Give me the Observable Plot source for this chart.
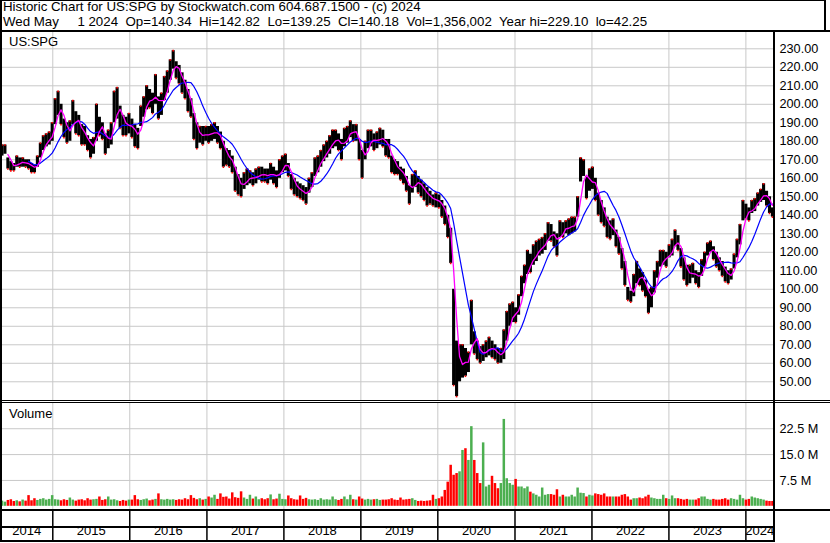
<!DOCTYPE html>
<html>
<head>
<meta charset="utf-8">
<script src="https://cdn.jsdelivr.net/npm/d3@7"></script>
<script src="https://cdn.jsdelivr.net/npm/@observablehq/plot@0.6"></script>
<style>
  html, body { margin: 0; padding: 0; background: #fff; }
  #chart { position: relative; width: 830px; height: 543px; overflow: hidden; background: #fff;
           font-family: Arial, "Liberation Sans", sans-serif; color: #000; }
  #chart svg { position: absolute; left: 0; }
  .ln { position: absolute; background: #000; }
  .txt { position: absolute; white-space: pre; color: #000; }
</style>
</head>
<body>
<div id="chart"></div>
<script>
// ---------------- data ----------------
const headerLine1 = "Historic Chart for US:SPG by Stockwatch.com 604.687.1500 - (c) 2024";
const headerLine2 = "Wed May     1 2024  Op=140.34  Hi=142.82  Lo=139.25  Cl=140.18  Vol=1,356,002  Year hi=229.10  lo=42.25";
const symbolLabel = "US:SPG";
const volumeLabel = "Volume";

const startDate = new Date(Date.UTC(2014, 3, 28));   // left edge of chart
const endDate = new Date(Date.UTC(2024, 4, 11));     // right edge of chart
const stepDays = 14;                                  // one bar per two weeks

const lows = [172,173,165,164,164,166,166,166,166,165,
163,163,166,171,175,177,178,180,189,194,
189,182,179,180,189,184,183,178,178,175,
171,173,180,183,181,173,176,178,190,192,
187,183,183,184,182,177,176,188,193,197,
198,195,200,192,194,202,206,213,219,214,
211,206,203,196,193,181,176,179,178,180,
179,180,181,179,176,166,167,166,163,153,
151,150,154,156,157,156,157,159,158,158,
157,159,157,155,160,163,164,161,154,151,
150,149,148,146,152,155,161,163,166,169,
171,173,176,177,175,170,177,179,182,180,
180,170,160,170,176,177,175,176,178,177,
172,171,163,162,162,159,157,153,146,152,
155,152,150,148,145,146,145,144,144,139,
135,128,114,48,42,50,52,53,55,70,
65,62,60,61,63,64,63,62,60,60,
62,72,80,82,82,86,96,103,108,109,
113,115,118,119,121,126,126,123,118,128,
128,130,129,130,131,139,158,161,149,153,
154,148,140,136,134,128,127,129,123,119,
111,102,94,93,96,103,102,99,96,87,
90,98,106,112,113,112,117,118,123,121,
112,105,102,103,106,103,101,107,112,118,
120,116,112,110,107,104,103,105,111,117,
124,137,138,137,141,142,145,147,148,145,
141,139];

const highs = [178,178,171,169,168,172,171,171,170,170,
168,167,172,179,183,184,185,190,203,207,
200,192,190,191,202,196,194,189,188,183,
181,182,200,193,190,184,186,190,207,209,
199,194,193,195,192,189,187,199,204,210,
208,206,216,204,206,215,218,224,229,223,
221,217,213,208,203,195,190,188,188,188,
188,189,190,188,185,180,176,175,172,166,
162,160,163,165,164,163,165,166,166,165,
165,168,166,164,170,172,173,168,162,160,
158,157,156,155,160,163,171,172,175,178,
180,183,186,186,184,181,187,188,191,189,
189,181,175,180,186,186,184,185,187,186,
181,181,172,170,169,166,165,161,156,162,
164,161,159,157,155,153,151,152,151,148,
145,140,133,100,72,70,70,68,66,94,
77,72,69,70,72,74,72,70,68,68,
78,88,92,93,90,97,107,113,121,119,
124,126,127,128,130,136,135,131,130,137,
136,137,138,139,139,150,171,170,161,165,
166,160,152,148,144,139,137,138,132,128,
122,115,101,99,108,115,111,109,105,100,
101,110,115,121,121,120,124,127,132,129,
122,117,113,113,114,110,109,116,120,125,
126,123,120,117,115,112,110,111,119,127,
135,148,146,144,148,149,152,154,157,153,
150,144];

// volume in millions
const volumes = [1.5,1.2,1.7,1.9,1.4,1.6,1.3,1.8,1.5,3.1,
1.6,2.2,1.7,2.0,2.2,1.8,2.0,3.1,1.9,1.8,
1.6,1.9,1.7,2.4,1.8,1.5,1.8,1.9,1.6,2.2,
1.8,1.9,2.0,2.7,1.7,1.9,2.7,1.8,1.9,1.6,
1.4,1.7,1.5,1.8,1.8,3.1,1.9,1.7,1.9,2.1,
1.6,1.8,2.0,3.6,1.9,1.8,2.0,1.8,1.9,1.7,
1.9,1.8,2.2,1.9,3.1,2.3,1.9,2.2,1.8,2.0,
2.7,2.4,3.2,2.0,3.6,2.6,2.7,2.1,3.9,2.5,
2.3,4.2,2.4,2.0,3.2,2.1,2.7,1.9,2.2,1.9,
2.2,3.3,1.9,2.1,3.5,2.0,1.9,3.0,2.2,1.9,
1.8,3.0,2.0,2.3,1.9,1.8,1.9,1.7,2.2,1.8,
1.9,1.8,2.7,1.9,1.7,2.0,2.7,1.9,3.2,1.9,
1.8,2.7,2.1,1.8,2.0,1.8,1.9,2.0,1.7,1.8,
1.8,1.9,2.2,1.8,1.7,2.4,1.8,1.9,2.0,2.2,
1.7,1.4,1.5,1.4,1.5,1.6,3.2,2.0,2.2,2.7,
4.6,7.0,11.9,9.0,9.5,10.0,16.2,16.7,13.3,23.1,
13.3,9.5,6.6,18.4,5.6,6.1,8.7,6.6,5.1,6.6,
25.2,8.0,6.6,6.1,7.8,5.6,5.6,5.1,5.6,4.1,
3.6,3.2,2.7,5.3,3.2,3.4,3.4,3.2,4.8,2.7,
3.2,2.7,2.7,3.2,2.7,5.3,3.8,3.7,2.7,3.2,
3.0,3.6,3.4,3.2,3.6,2.7,2.7,2.7,2.7,2.7,
3.2,3.4,2.7,1.8,2.2,2.2,2.4,2.2,2.7,3.2,
2.4,2.2,2.0,2.0,3.2,2.2,2.0,3.0,2.2,2.2,
2.0,1.8,2.0,1.8,1.8,1.8,2.2,2.7,2.7,2.0,
1.8,2.0,1.8,1.8,2.0,2.2,1.8,2.2,2.0,1.8,
3.2,2.2,1.8,2.0,2.7,2.4,2.2,2.0,1.8,1.5,
1.4,1.4];

const priceTicks = [50,60,70,80,90,100,110,120,130,140,150,160,170,180,190,200,210,220,230];
const volumeTicks = [7.5, 15, 22.5];
const yearLabels = ["2014","2015","2016","2017","2018","2019","2020","2021","2022","2023","2024"];

// ---------------- table built from the arrays ----------------
const data = lows.map((lo, i) => ({
  date: d3.utcDay.offset(startDate, stepDays * i + 7),
  lo, hi: highs[i], vol: volumes[i], mid: (lo + highs[i]) / 2
}));
data.forEach((d, i) => { d.up = i === 0 ? true : d.mid >= data[i - 1].mid; });

const yearStarts = d3.utcYears(startDate, endDate);
const yearCells = yearLabels.map(label => {
  const y = +label;
  const a = new Date(Math.max(+startDate, Date.UTC(y, 0, 1)));
  const b = new Date(Math.min(+endDate, Date.UTC(y + 1, 0, 1)));
  return {label, mid: new Date((+a + +b) / 2)};
});

const font = 'Arial, "Liberation Sans", sans-serif';
const baseStyle = {fontFamily: font, fontSize: "12.7px", background: "transparent", color: "#000", overflow: "visible"};
const xScale = {type: "utc", domain: [startDate, endDate], axis: null};
const GRID = "#c8c8c8";

// ---------------- price panel ----------------
const pricePlot = Plot.plot({
  width: 830, height: 369, marginLeft: 0, marginRight: 57, marginTop: 0, marginBottom: 0,
  x: xScale,
  y: {domain: [39.89, 239.35], axis: "right", ticks: priceTicks, tickFormat: d => d.toFixed(2),
      tickSize: 0, tickPadding: 6, label: null},
  style: baseStyle,
  marks: [
    Plot.ruleY(priceTicks, {stroke: GRID, strokeWidth: 1}),
    Plot.ruleX(yearStarts, {stroke: GRID, strokeWidth: 1}),
    Plot.ruleX(data, {x: "date", y1: "lo", y2: "hi", stroke: "#000", strokeWidth: 3.1}),
    Plot.dot(data, {x: "date", y: d => d.up ? d.hi : d.lo, r: 0.9, symbol: "square", fill: "#ff0000"}),
    Plot.lineY(data, Plot.windowY({k: 10, anchor: "end", strict: true}, {x: "date", y: "mid", stroke: "#0000ff", strokeWidth: 1.2})),
    Plot.lineY(data, Plot.windowY({k: 3, anchor: "end", strict: true}, {x: "date", y: "mid", stroke: "#ff00ff", strokeWidth: 1.3}))
  ]
});

// ---------------- volume panel ----------------
const volumePlot = Plot.plot({
  width: 830, height: 106, marginLeft: 0, marginRight: 57, marginTop: 0, marginBottom: 0,
  x: xScale,
  y: {domain: [-0.93, 29.82], axis: "right", ticks: volumeTicks, tickFormat: d => d.toFixed(1) + " M",
      tickSize: 0, tickPadding: 6, label: null},
  style: baseStyle,
  marks: [
    Plot.ruleY(volumeTicks, {stroke: GRID, strokeWidth: 1}),
    Plot.ruleX(yearStarts, {stroke: GRID, strokeWidth: 1}),
    Plot.ruleX(data.filter(d => !d.up), {x: "date", y1: "vol", stroke: "#ff0000", strokeWidth: 2.5}),
    Plot.ruleX(data.filter(d => d.up), {x: "date", y1: "vol", stroke: "#4caf50", strokeWidth: 2.5})
  ]
});

// ---------------- date rows ----------------
const datePlot = Plot.plot({
  width: 830, height: 30, marginLeft: 0, marginRight: 57, marginTop: 0, marginBottom: 0,
  x: xScale,
  style: baseStyle,
  marks: [
    Plot.ruleX(yearStarts, {stroke: "#000", strokeWidth: 1.5}),
    Plot.text(yearCells, {x: "mid", text: "label", frameAnchor: "bottom", dy: -6.5, fill: "#000", fontSize: 13})
  ]
});

const chart = document.getElementById("chart");
pricePlot.style.top = "31px";
volumePlot.style.top = "403px";
datePlot.style.top = "511px";
chart.append(pricePlot, volumePlot, datePlot);

function line(x, y, w, h) {
  const d = document.createElement("div");
  d.className = "ln";
  Object.assign(d.style, {left: x + "px", top: y + "px", width: w + "px", height: h + "px"});
  chart.appendChild(d);
}
function text(str, x, y, size, lh) {
  const d = document.createElement("div");
  d.className = "txt";
  d.textContent = str;
  Object.assign(d.style, {left: x + "px", top: y + "px", fontSize: size + "px", lineHeight: lh + "px"});
  chart.appendChild(d);
}

// frame
line(0, 0, 826, 1);
line(0, 0, 2, 542);
line(824, 0, 2, 31);
line(0, 29.5, 830, 2);
line(773, 31, 2, 511);
line(0, 400, 830, 1);
line(0, 402, 830, 1);
line(0, 509, 830, 2);
line(0, 526, 775, 2);
line(0, 540, 775, 2);

// texts
text(headerLine1, 3, 0, 13.3, 13);
text(headerLine2, 3, 15, 13.3, 13);
text(symbolLabel, 9, 34, 13, 15);
text(volumeLabel, 9, 406, 13, 15);
</script>
</body>
</html>
